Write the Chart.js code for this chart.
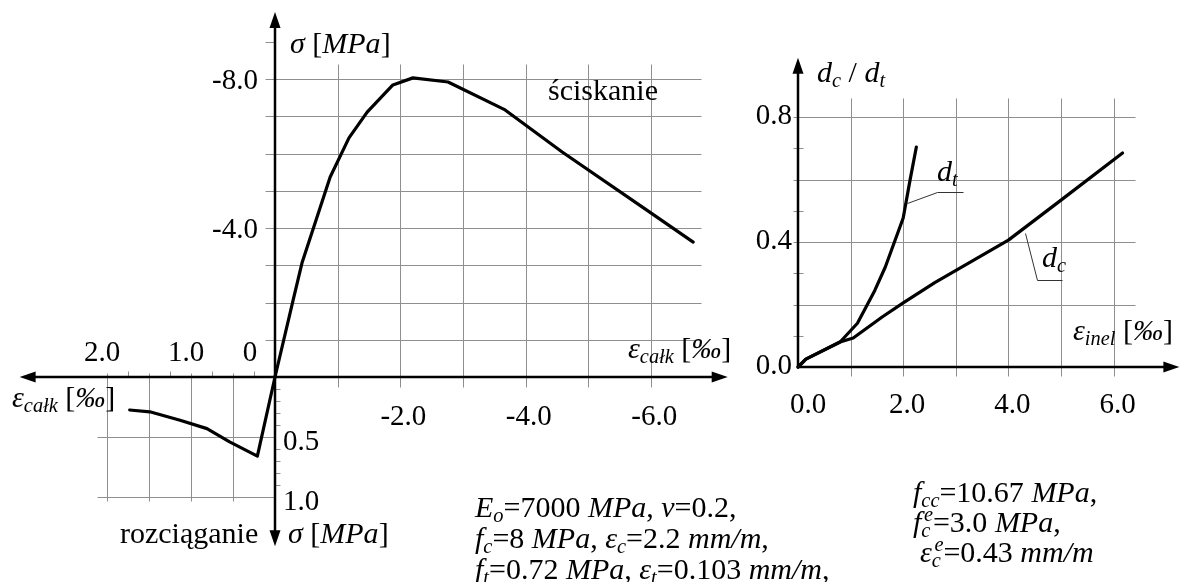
<!DOCTYPE html>
<html lang="pl">
<head>
<meta charset="utf-8">
<title>Beton: sigma-epsilon i degradacja</title>
<script src="https://cdn.jsdelivr.net/npm/chart.js@4.4.1/dist/chart.umd.min.js"></script>
<style>
    html, body { margin: 0; padding: 0; background: #fff; }
    #wrap { position: relative; width: 1180px; height: 582px; overflow: hidden; }
    #fig { position: absolute; left: 0; top: 0; }
    .lbl {
        position: absolute;
        font-family: "Liberation Serif", "Times New Roman", serif;
        font-size: 30px;
        line-height: 30px;
        color: #000;
        white-space: nowrap;
    }
    .num { font-size: 29px; line-height: 30px; }
    .lbl sub, .lbl sup { font-size: 0.68em; line-height: 0; }
    .lbl sub { vertical-align: -0.25em; }
    .lbl sup { vertical-align: 0.55em; }
</style>
</head>
<body>
<div id="wrap">
    <canvas id="fig" width="1180" height="582"></canvas>
</div>
<script>
// ---- data ----
// sigma-epsilon, compression (strain in permille, stress in MPa)
const compStrain = [0, -0.29, -0.43, -0.88, -1.18, -1.47, -1.88, -2.2, -2.76, -3.67, -4.58, -5.93, -6.67];
const compStress = [0, -2.07, -3.06, -5.37, -6.42, -7.11, -7.84, -8.03, -7.92, -7.17, -6.04, -4.48, -3.62];
// sigma-epsilon, tension
const tensStrain = [0, 0.21, 0.54, 0.81, 1.13, 1.49, 1.73];
const tensStress = [0, 0.66, 0.54, 0.43, 0.36, 0.29, 0.275];
// damage vs inelastic strain
const dcStrain = [0, 0.15, 0.8, 1.05, 1.6, 2.0, 2.6, 4.0, 5.0, 6.17];
const dcValue  = [0, 0.025, 0.08, 0.093, 0.16, 0.205, 0.27, 0.406, 0.534, 0.685];
const dtStrain = [0, 0.15, 0.8, 1.13, 1.46, 1.66, 2.0, 2.13, 2.25];
const dtValue  = [0, 0.025, 0.08, 0.14, 0.245, 0.32, 0.477, 0.598, 0.704];

// tick labels
const compStrainTicks = [-2, -4, -6];
const compStressTicks = [-8, -4];
const tensStrainTicks = [2, 1, 0];
const tensStressTicks = [0.5, 1.0];
const dStrainTicks = [0, 2, 4, 6];
const dValueTicks = [0, 0.4, 0.8];

// grid values
const compStrainGrid = [-1, -2, -3, -4, -5, -6];
const compStressGrid = [-8, -7, -6, -5, -4, -3, -2, -1];
const tensStrainGrid = [0.5, 1.0, 1.5, 2.0];
const tensStrainMinor = [0.25, 0.75, 1.25, 1.75];
const tensStressGrid = [0.5, 1.0];
const tensStressMinor = [0.1, 0.2, 0.3, 0.4, 0.6, 0.7, 0.8, 0.9];
const dStrainGrid = [1, 2, 3, 4, 5, 6];
const dValueGrid = [0.2, 0.4, 0.6, 0.8];
const dValueMinor = [0.1, 0.3, 0.5, 0.7];

// ---- layout of the three coordinate systems ----
const W = 1180, H = 582;
function xRange(zero, ppu, leftward) {
    return leftward
        ? { min: (zero - W) / ppu, max: zero / ppu, reverse: true }
        : { min: -zero / ppu, max: (W - zero) / ppu, reverse: false };
}
function yRange(zero, ppu, downward) {
    return downward
        ? { min: -zero / ppu, max: (H - zero) / ppu, reverse: true }
        : { min: (zero - H) / ppu, max: zero / ppu, reverse: false };
}
function hiddenAxis(axis, range) {
    return Object.assign({ type: 'linear', axis: axis, display: false, bounds: 'data',
        position: axis === 'x' ? 'bottom' : 'left' }, range);
}

const pts = (xs, ys) => xs.map((x, i) => ({ x: x, y: ys[i] }));
const fmt = v => v.toFixed(1);

function line(ctx, xs, ys, x1, y1, x2, y2) {
    ctx.beginPath();
    ctx.moveTo(Math.round(xs.getPixelForValue(x1)) + 0.5, Math.round(ys.getPixelForValue(y1)) + 0.5);
    ctx.lineTo(Math.round(xs.getPixelForValue(x2)) + 0.5, Math.round(ys.getPixelForValue(y2)) + 0.5);
    ctx.stroke();
}

function arrow(ctx, xs1, ys1, x1, y1, xs2, ys2, x2, y2) {
    const ax = xs1.getPixelForValue(x1), ay = ys1.getPixelForValue(y1);
    const bx = xs2.getPixelForValue(x2), by = ys2.getPixelForValue(y2);
    const ang = Math.atan2(by - ay, bx - ax);
    const len = 16, half = 5.5;
    ctx.beginPath();
    ctx.moveTo(ax, ay);
    ctx.lineTo(bx - Math.cos(ang) * len * 0.8, by - Math.sin(ang) * len * 0.8);
    ctx.stroke();
    ctx.beginPath();
    ctx.moveTo(bx, by);
    ctx.lineTo(bx - Math.cos(ang) * len - Math.sin(ang) * half, by - Math.sin(ang) * len + Math.cos(ang) * half);
    ctx.lineTo(bx - Math.cos(ang) * len + Math.sin(ang) * half, by - Math.sin(ang) * len - Math.cos(ang) * half);
    ctx.closePath();
    ctx.fill();
}

// grid, axes, arrows and label leaders
const figurePlugin = {
    id: 'figure',
    beforeDatasetsDraw(chart) {
        const ctx = chart.ctx, s = chart.scales;
        ctx.save();
        ctx.strokeStyle = '#8f8f8f';
        ctx.lineWidth = 1;

        // compression quadrant
        compStrainGrid.forEach(v => line(ctx, s.xc, s.yc, v, -8.4, v, 0.27));
        compStressGrid.forEach(v => line(ctx, s.xc, s.yc, 0.16, v, -6.8, v));
        line(ctx, s.xc, s.yc, 0.16, -9, 0, -9);

        // tension quadrant
        tensStrainGrid.forEach(v => line(ctx, s.xt, s.yt, v, -0.03, v, 1.03));
        tensStrainMinor.forEach(v => line(ctx, s.xt, s.yt, v, -0.05, v, 0));
        tensStressGrid.forEach(v => line(ctx, s.xt, s.yt, 2.12, v, 0, v));
        tensStressMinor.forEach(v => line(ctx, s.xt, s.yt, 0, v, -0.06, v));

        // damage chart
        dStrainGrid.forEach(v => line(ctx, s.xd, s.yd, v, 0.86, v, -0.03));
        dValueGrid.forEach(v => line(ctx, s.xd, s.yd, -0.1, v, 6.4, v));
        dValueMinor.forEach(v => line(ctx, s.xd, s.yd, -0.1, v, 0.1, v));

        // leaders of d_t and d_c
        ctx.strokeStyle = '#333';
        line(ctx, s.xd, s.yd, 2.07, 0.525, 2.64, 0.56);
        line(ctx, s.xd, s.yd, 2.64, 0.56, 3.14, 0.56);
        line(ctx, s.xd, s.yd, 4.32, 0.429, 4.54, 0.278);
        line(ctx, s.xd, s.yd, 4.54, 0.278, 5.02, 0.278);

        // axes with arrows
        ctx.strokeStyle = '#000';
        ctx.fillStyle = '#000';
        ctx.lineWidth = 2.5;
        arrow(ctx, s.xc, s.yc, 0, 0, s.xt, s.yt, 3.04, 0);
        arrow(ctx, s.xt, s.yt, 0, 0, s.xc, s.yc, -7.22, 0);
        arrow(ctx, s.xc, s.yc, 0, 0, s.xc, s.yc, 0, -9.8);
        arrow(ctx, s.xt, s.yt, 0, 0, s.xt, s.yt, 0, 1.41);
        arrow(ctx, s.xd, s.yd, 0, 0, s.xd, s.yd, 0, 0.99);
        arrow(ctx, s.xd, s.yd, 0, 0, s.xd, s.yd, 7.25, 0);
        ctx.restore();
    }
};

const curve = (data, xId, yId) => ({
    data: data,
    xAxisID: xId,
    yAxisID: yId,
    showLine: true,
    borderColor: '#000',
    borderWidth: 3.2,
    borderJoinStyle: 'round',
    borderCapStyle: 'round',
    pointRadius: 0,
    tension: 0
});

const chart = new Chart(document.getElementById('fig'), {
    type: 'scatter',
    data: {
        datasets: [
            curve(pts(compStrain, compStress), 'xc', 'yc'),
            curve(pts(tensStrain, tensStress), 'xt', 'yt'),
            curve(pts(dcStrain, dcValue), 'xd', 'yd'),
            curve(pts(dtStrain, dtValue), 'xd', 'yd')
        ]
    },
    options: {
        responsive: false,
        animation: false,
        layout: { padding: 0 },
        plugins: { legend: { display: false }, tooltip: { enabled: false } },
        scales: {
            xc: hiddenAxis('x', xRange(275, 62.7, true)),
            yc: hiddenAxis('y', yRange(377, 37.25, true)),
            xt: hiddenAxis('x', xRange(275, 84, true)),
            yt: hiddenAxis('y', yRange(377, 120, true)),
            xd: hiddenAxis('x', xRange(798, 52.6, false)),
            yd: hiddenAxis('y', yRange(367, 312.5, false))
        }
    },
    plugins: [figurePlugin]
});

// ---- text ----
const wrap = document.getElementById('wrap');
function addLabel(html, x, top, align, cls) {
    const el = document.createElement('div');
    el.className = 'lbl' + (cls ? ' ' + cls : '');
    el.innerHTML = html;
    el.style.left = x + 'px';
    el.style.top = top + 'px';
    if (align === 'center') el.style.transform = 'translateX(-50%)';
    if (align === 'right') el.style.transform = 'translateX(-100%)';
    wrap.appendChild(el);
}

const s = chart.scales;
compStrainTicks.forEach(v =>
    addLabel(fmt(v), s.xc.getPixelForValue(v) + 3, s.yc.getPixelForValue(0) + 38 - 15, 'center', 'num'));
compStressTicks.forEach(v =>
    addLabel(fmt(v), s.xc.getPixelForValue(0) - 17, s.yc.getPixelForValue(v) - 15, 'right', 'num'));
tensStrainTicks.forEach(v =>
    addLabel(v === 0 ? '0' : fmt(v), s.xt.getPixelForValue(v) - (v === 0 ? 25 : 5),
        s.yt.getPixelForValue(0) - 26 - 15, 'center', 'num'));
tensStressTicks.forEach(v =>
    addLabel(fmt(v), s.xt.getPixelForValue(0) + 8, s.yt.getPixelForValue(v) + 3 - 15, 'left', 'num'));
dStrainTicks.forEach(v =>
    addLabel(fmt(v), s.xd.getPixelForValue(v) + (v === 0 ? 10 : 4), s.yd.getPixelForValue(0) + 36 - 15, 'center', 'num'));
dValueTicks.forEach(v =>
    addLabel(fmt(v), s.xd.getPixelForValue(0) - 6, s.yd.getPixelForValue(v) - 3 - 15, 'right', 'num'));

const epsCalk = '<i>ε<sub>całk</sub></i> [<i>‰</i>]';
addLabel('<i>σ</i> [<i>MPa</i>]', 290, 28);
addLabel('ściskanie', 548, 75);
addLabel(epsCalk, 628, 333);
addLabel(epsCalk, 12, 382);
addLabel('rozciąganie', 120, 518);
addLabel('<i>σ</i> [<i>MPa</i>]', 288, 518);
addLabel('<i>d<sub>c</sub></i> / <i>d<sub>t</sub></i>', 817, 57);
addLabel('<i>d<sub>t</sub></i>', 937, 156);
addLabel('<i>d<sub>c</sub></i>', 1042, 242);
addLabel('<i>ε<sub>inel</sub></i> [<i>‰</i>]', 1073, 315);

addLabel('<i>E<sub>o</sub></i>=7000 <i>MPa</i>, <i>ν</i>=0.2,', 475, 492);
addLabel('<i>f<sub>c</sub></i>=8 <i>MPa</i>, <i>ε<sub>c</sub></i>=2.2 <i>mm/m</i>,', 475, 523);
addLabel('<i>f<sub>t</sub></i>=0.72 <i>MPa</i>, <i>ε<sub>t</sub></i>=0.103 <i>mm/m</i>,', 475, 554);
addLabel('<i>f<sub>cc</sub></i>=10.67 <i>MPa</i>,', 913, 477);
addLabel('<i>f<sub>c</sub><sup style="margin-left:-0.32em">e</sup></i>=3.0 <i>MPa</i>,', 913, 507);
addLabel('<i>ε<sub>c</sub><sup style="margin-left:-0.32em">e</sup></i>=0.43 <i>mm/m</i>', 920, 537);
</script>
</body>
</html>
